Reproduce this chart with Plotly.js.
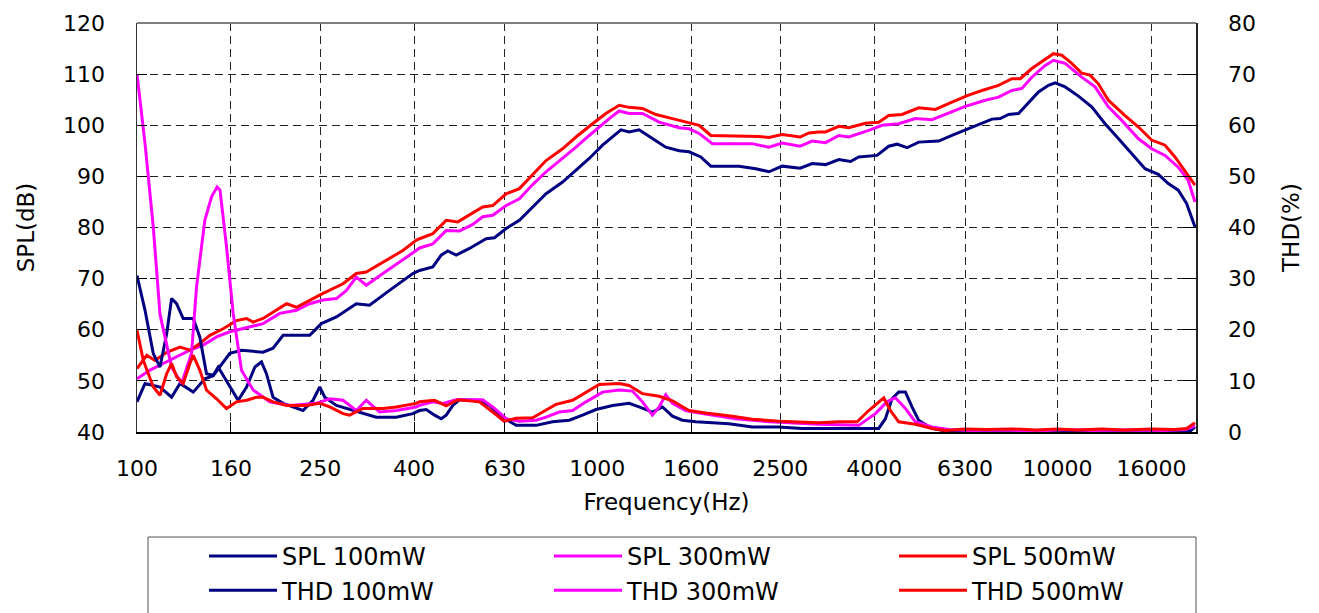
<!DOCTYPE html>
<html>
<head>
<meta charset="utf-8">
<script src="https://cdn.plot.ly/plotly-3.0.1.min.js"></script>
<style>html,body{margin:0;padding:0;background:#fff;}#chart{width:1319px;height:613px;}</style>
</head>
<body>
<div id="chart"></div>
<script>
// ---- Data (frequency in Hz, SPL in dB, THD in %) ----
const tickFreqs = [100,160,250,400,630,1000,1600,2500,4000,6300,10000,16000];
const tickLabels = ["100","160","250","400","630","1000","1600","2500","4000","6300","10000","16000"];

const spl100F = [100,104.1,112.2,118.9,124,132.5,140.4,146.4,159.1,168.7,187.9,197.5,207.7,237.3,251.6,271.2,299.5,320.1,353.8,397.5,411.1,439.3,458.1,473.5,493.8,527.7,573.6,598,633.9,677.4,724.1,774.1,840.9,899.2,960.7,1027,1080,1126,1173,1233,1318,1409,1507,1583,1679,1765,2032,2210,2361,2523,2760,2931,3134,3349,3551,3701,4055,4299,4481,4711,4993,5520,5898,6306,6741,7205,7511,7830,8231,8652,9094,9561,9886,10391,11107,11868,12690,13560,14490,15500,16560,17410,18300,19080,19900];
const spl100 = [45.9,49.5,48.8,46.8,49.5,47.8,50.4,51,55.4,56,55.6,56.4,58.9,58.9,61.2,62.5,65.1,64.8,67.7,71,71.6,72.3,74.6,75.4,74.6,75.9,77.8,78.0,79.8,81.4,84,86.6,88.9,91.2,93.5,96.1,97.7,99.1,98.7,99.1,97.4,95.7,95.0,94.8,93.8,92.0,92.0,91.5,90.9,92.0,91.6,92.5,92.3,93.3,92.9,93.8,94.1,95.9,96.3,95.6,96.7,96.9,98.0,99.1,100.2,101.2,101.3,102.1,102.3,104.5,106.5,107.8,108.3,107.5,105.7,103.6,100.3,97.4,94.5,91.5,90.4,88.6,87.3,84.7,80.1];

const spl300F = [100,106.7,114,121.9,130.3,139.3,148.9,159.1,170.1,187.9,204.3,222.1,237.3,253.6,271.2,285.1,299.5,314.9,342.2,378.1,404.3,411.1,439.3,469.7,502,536.5,563.9,592.9,633.9,677.4,724.1,774.1,840.9,899.2,960.7,1010,1062,1116,1173,1254,1363,1507,1583,1665,1779,2173,2361,2523,2760,2931,3134,3349,3521,3890,4157,4519,4912,5337,5801,6306,6969,7447,7961,8368,8797,9404,9802,10391,11290,12070,12900,13780,14980,16020,17130,18300,19240,19900];
const spl300 = [50.4,52.1,53.4,54.7,56,57,58.6,59.6,60.2,61.2,63.2,63.8,65.1,65.8,66.1,67.7,70.3,68.7,71,73.6,75.5,76,76.8,79.4,79.3,80.6,82.1,82.4,84.3,85.6,88.4,90.9,93.5,95.7,98.0,99.7,101.3,102.8,102.3,102.3,100.6,99.5,99.3,98.4,96.4,96.4,95.7,96.5,95.9,96.9,96.6,98.0,97.7,99.0,100,100.3,101.3,101.1,102.4,103.7,104.9,105.5,106.8,107.2,109.4,111.7,112.7,112.1,109.4,107.5,103.6,101.0,97.4,95.4,94.1,91.8,89.2,85.0];

const spl500F = [100,105,109.4,116,124,130.3,136.9,144,153.9,164.5,173,178.8,187.9,200.9,211.3,222.1,237.3,253.6,280.3,299.5,314.9,342.2,378.1,404.3,411.1,439.3,469.7,497.8,527.7,563.9,592.9,633.9,677.4,724.1,774.1,840.9,899.2,976.8,1044,1116,1173,1254,1341,1457,1583,1665,1765,2246,2361,2523,2760,2884,3031,3134,3349,3521,3828,4089,4299,4595,4993,5429,5898,6411,6853,7447,7961,8301,8797,9404,9802,10217,10740,11290,11773,12270,12900,14020,14980,16020,17130,18000,19080,19900];
const spl500 = [52.4,55.0,54.0,55.6,56.6,56.0,57.3,58.9,60.2,61.8,62.2,61.5,62.2,63.8,65.1,64.4,65.8,67.1,69.0,71.0,71.3,73.2,75.5,77.5,77.8,78.8,81.4,81.1,82.4,84.0,84.3,86.6,87.6,90.4,93.1,95.4,97.7,100.3,102.3,103.9,103.5,103.3,102.1,101.3,100.4,100,98.0,97.8,97.6,98.2,97.7,98.5,98.7,98.7,99.8,99.5,100.4,100.6,101.9,102.1,103.4,103.1,104.5,105.9,106.8,107.8,109.1,109.1,111.1,113.0,114.0,113.7,112.1,110.2,109.8,108.1,104.9,101.9,99.7,97.1,96.1,93.8,90.5,88.3];

const thd100F = [100,104.1,108.5,112.2,116,118.9,121.9,126,132.5,136.9,141.6,146.4,150.1,159.1,165.9,173,180.3,186.4,191.1,197.5,207.7,229.5,241.2,249.5,255.8,271.2,309.6,331.1,365.8,397.5,411.1,425.1,443.1,458.1,469.7,485.5,502,554.6,583.2,623.1,666.4,736.5,799.8,869.6,929.2,993.6,1080,1173,1233,1318,1386,1457,1531,1637,1933,2173,2482,2788,3240,4089,4228,4370,4519,4673,4830,4993,5337,5706,6500,8000,10000,12500,15000,18000,19500,19900];
const thd100 = [30.6,23.8,15.3,12.7,19.2,26.1,25.1,22.2,22.2,18.6,11.4,11.1,12.7,8.8,6.2,8.8,12.7,13.7,11.4,6.8,5.6,4.2,6.2,8.8,6.8,5.2,3.6,2.9,2.9,3.6,4.2,4.4,3.3,2.6,3.3,5.2,6.3,6.2,5.2,2.9,1.3,1.3,2.0,2.3,3.3,4.4,5.2,5.6,4.9,3.9,4.9,3.1,2.3,2.0,1.6,1.0,1.0,0.7,0.7,0.7,2.6,6.5,7.8,7.8,4.9,2.3,0.7,0.2,0.2,0.1,0.2,0.1,0.2,0.1,0.3,1.0];

const thd300F = [100,104.1,108.5,112.2,118.9,125,131.4,134.7,140.4,145.2,149.3,151.5,156.5,161.8,168.7,178.8,194.3,214.8,245.4,262.3,280.3,299.5,314.9,336.6,365.8,404.3,411.1,439.3,461.8,493.8,563.9,592.9,633.9,677.4,736.5,774.1,827.1,884,945.2,1027,1116,1193,1254,1318,1363,1409,1457,1557,1692,2000,2361,3031,3701,4022,4262,4445,4673,4912,5337,5801,6500,7500,9000,10500,12000,14500,17000,19000,19900];
const thd300 = [70,56.4,40,23,12.7,9.5,15.4,28.4,41.4,46,47.9,47.3,36.2,23.2,12.1,8.2,5.9,5.2,5.6,6.5,6.2,4.2,6.2,3.9,4.2,4.9,5.2,5.9,5.6,6.3,6.3,4.9,2.6,2.1,2.3,2.9,3.9,4.2,5.9,7.8,8.2,8.0,5.9,3.3,4.9,7.3,5.6,4.2,3.6,2.6,2.0,1.5,1.3,3.6,5.9,6.7,4.6,2.0,1.0,0.5,0.3,0.4,0.2,0.5,0.3,0.4,0.3,0.5,1.2];

const thd500F = [100,103.2,108.5,112.2,116,118.9,121.9,126,130.3,132.5,136.9,141.6,148.9,156.5,164.5,173,181.8,187.9,197.5,211.3,233.4,249.5,262.3,280.3,289.7,309.6,342.2,365.8,404.3,411.1,443.1,469.7,497.8,554.6,592.9,628.4,666.4,724.1,761.2,813.5,884,945.2,1010,1116,1173,1254,1363,1457,1583,1721,1966,2173,2482,3031,3349,3670,3890,4193,4336,4519,4912,5337,5706,6300,7000,8000,9000,10000,11000,12500,14000,16000,18000,19080,19900];
const thd500 = [19.9,14.0,8.8,7.2,11.4,13.4,10.8,9.5,13.4,15.0,12.1,8.2,6.5,4.6,5.9,6.2,6.8,6.8,5.9,5.2,5.2,5.6,4.9,3.6,3.3,4.6,4.6,4.9,5.6,5.9,6.2,5.1,6.3,5.9,3.9,2.1,2.7,2.8,3.9,5.4,6.2,7.8,9.3,9.5,9.1,7.5,7.0,6.1,4.2,3.7,3.1,2.5,2.1,1.8,2.0,2.0,4.2,6.7,4.2,2.0,1.5,0.7,0.3,0.6,0.5,0.6,0.4,0.6,0.4,0.6,0.4,0.6,0.5,0.7,1.8];

const NAVY = '#000080', MAG = '#FF00FF', RED = '#FF0000';
const FONT = 'DejaVu Sans, Liberation Sans, Arial, sans-serif';
const LW = 3;

function tr(name, x, y, color, axis, rank) {
  return {x: x, y: y, name: name, type: 'scatter', mode: 'lines', yaxis: axis,
          line: {color: color, width: LW}, legendrank: rank, hoverinfo: 'x+y+name'};
}

const data = [
  tr('THD 100mW', thd100F, thd100, NAVY, 'y2', 4),
  tr('SPL 100mW', spl100F, spl100, NAVY, 'y', 1),
  tr('THD 300mW', thd300F, thd300, MAG, 'y2', 5),
  tr('SPL 300mW', spl300F, spl300, MAG, 'y', 2),
  tr('THD 500mW', thd500F, thd500, RED, 'y2', 6),
  tr('SPL 500mW', spl500F, spl500, RED, 'y', 3)
];

const W = 1319, H = 613;
const ML = 137, MR = 123, MT = 23, MB = 181;
const PW = W - ML - MR, PH = H - MT - MB;
function px2x(p) { return (p - ML) / PW; }
function py2y(p) { return (H - MB - p) / PH; }

const layout = {
  width: W, height: H,
  margin: {l: ML, r: MR, t: MT, b: MB, pad: 0, autoexpand: false},
  paper_bgcolor: '#fff', plot_bgcolor: '#fff',
  font: {family: FONT, color: '#000', size: 22},
  showlegend: true,
  legend: {
    orientation: 'h', x: px2x(204), xanchor: 'left', y: py2y(534), yanchor: 'top',
    bgcolor: 'rgba(0,0,0,0)', borderwidth: 0,
    font: {family: FONT, size: 24, color: '#000'},
    itemwidth: 68, entrywidth: 262, entrywidthmode: 'pixels',
    traceorder: 'normal'
  },
  xaxis: {
    type: 'log', range: [2, Math.log10(20000)],
    tickvals: tickFreqs, ticktext: tickLabels,
    showgrid: true, gridcolor: '#222', gridwidth: 1, griddash: '8px,5px',
    ticks: 'inside', ticklen: 10, tickcolor: '#000', tickwidth: 1,
    showline: true, linecolor: '#000', linewidth: 1.5,
    zeroline: false, ticklabelstandoff: 16,
    tickfont: {family: FONT, size: 22, color: '#000'},
    title: {text: 'Frequency(Hz)', font: {family: FONT, size: 23, color: '#000'}, standoff: 14}
  },
  yaxis: {
    range: [40, 120], dtick: 10, tick0: 40,
    showgrid: true, gridcolor: '#222', gridwidth: 1, griddash: '8px,5px',
    ticks: 'inside', ticklen: 10, tickcolor: '#000',
    showline: true, linecolor: '#333', linewidth: 1.5,
    zeroline: false, ticklabelstandoff: 26,
    tickfont: {family: FONT, size: 22, color: '#000'},
    title: {text: 'SPL(dB)', font: {family: FONT, size: 23, color: '#000'}, standoff: 22}
  },
  yaxis2: {
    range: [0, 80], dtick: 10, tick0: 0, overlaying: 'y', side: 'right',
    showgrid: false, ticks: 'inside', ticklen: 14, tickcolor: '#000',
    showline: true, linecolor: '#222', linewidth: 1.5,
    zeroline: false, ticklabelstandoff: 26,
    tickfont: {family: FONT, size: 22, color: '#000'},
    title: {text: 'THD(%)', font: {family: FONT, size: 23, color: '#000'}, standoff: 28}
  },
  shapes: [
    {type: 'line', xref: 'paper', yref: 'paper', x0: 0, x1: 1, y0: 1, y1: 1,
     line: {color: '#808080', width: 2}},
    {type: 'rect', xref: 'paper', yref: 'paper', x0: px2x(148), x1: px2x(1196), y0: py2y(640), y1: py2y(537),
     line: {color: '#555', width: 1}, fillcolor: 'rgba(0,0,0,0)', layer: 'below'}
  ]
};

Plotly.newPlot('chart', data, layout, {displayModeBar: false, staticPlot: true});
</script>
</body>
</html>
